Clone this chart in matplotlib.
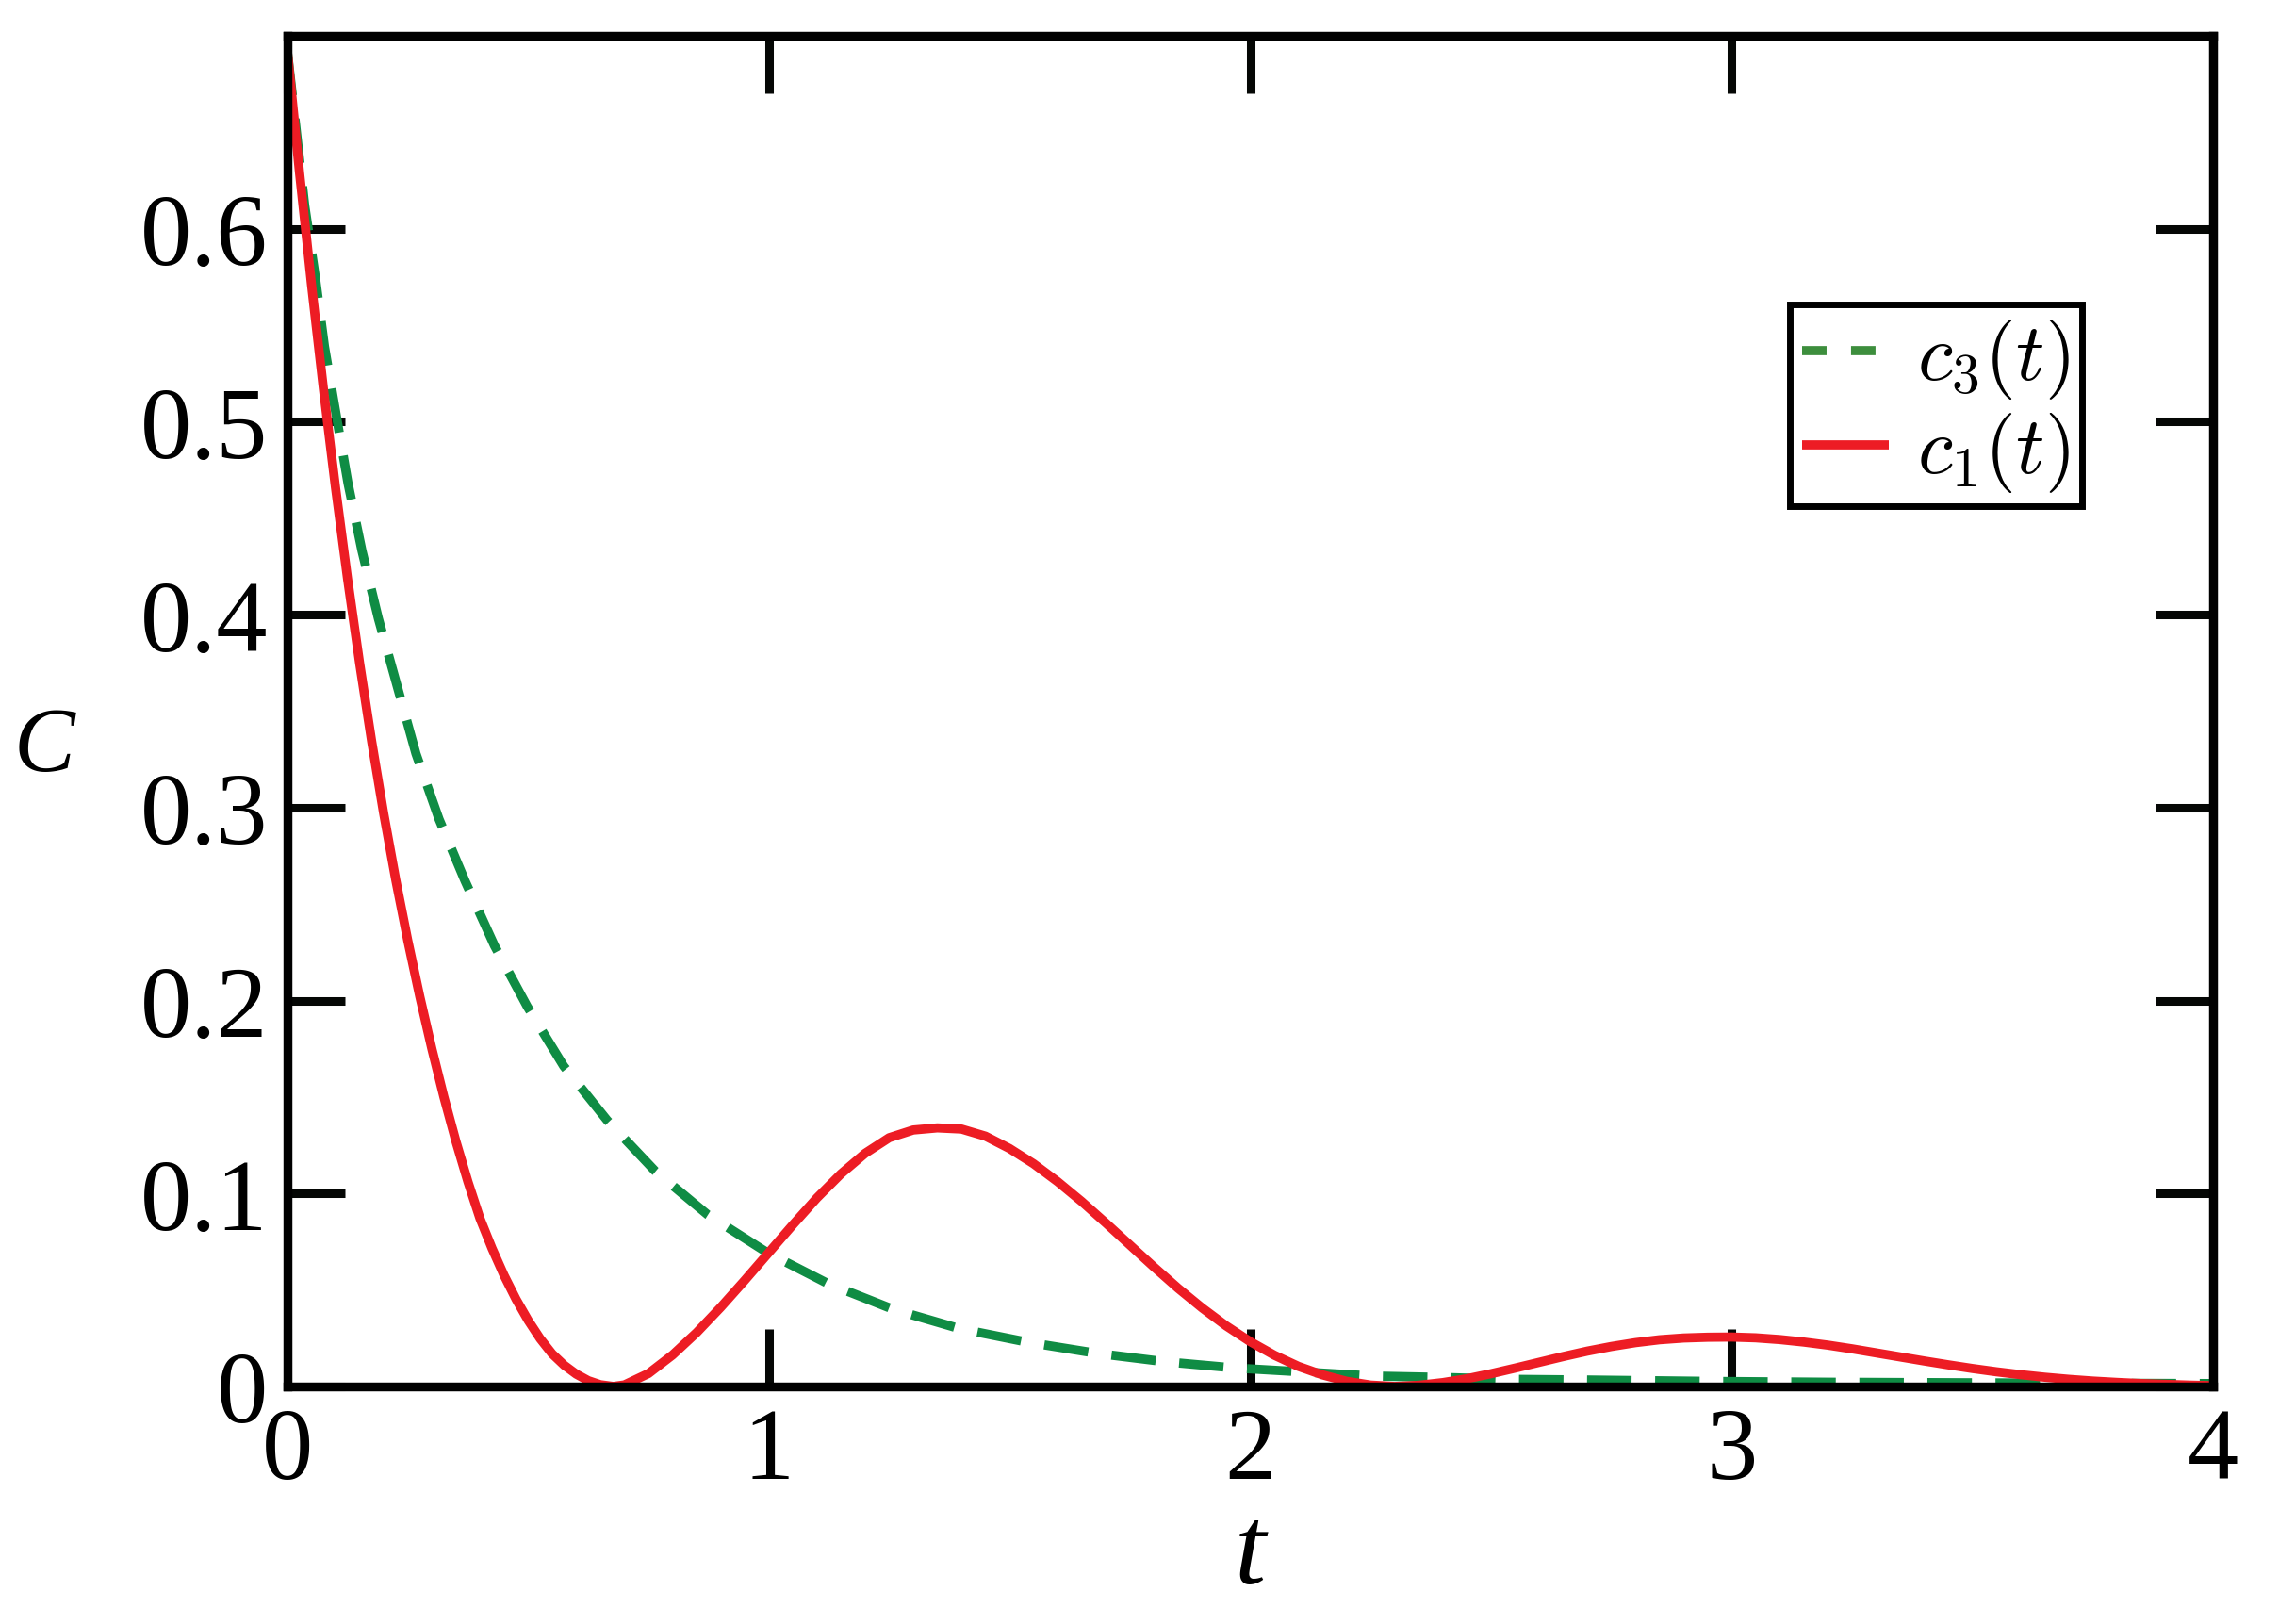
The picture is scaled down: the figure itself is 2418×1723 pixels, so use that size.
import matplotlib
matplotlib.use('Agg')
import matplotlib.pyplot as plt

plt.rcParams['font.family'] = ['Liberation Serif', 'DejaVu Serif']
plt.rcParams['mathtext.fontset'] = 'cm'
plt.rcParams['lines.scale_dashes'] = False

# c1(t), red solid
c1_t = [0.0, 0.025, 0.05, 0.075, 0.1, 0.125, 0.15, 0.175, 0.2, 0.225,
        0.25, 0.275, 0.3, 0.325, 0.35, 0.375, 0.4, 0.425, 0.45, 0.475,
        0.5, 0.525, 0.55, 0.575, 0.6, 0.625, 0.65, 0.677, 0.7, 0.75,
        0.8, 0.85, 0.9, 0.95, 1.0, 1.05, 1.1, 1.15, 1.2, 1.25,
        1.3, 1.35, 1.4, 1.45, 1.5, 1.55, 1.6, 1.65, 1.7, 1.75,
        1.8, 1.85, 1.9, 1.95, 2.0, 2.05, 2.1, 2.15, 2.2, 2.25,
        2.3, 2.35, 2.4, 2.45, 2.5, 2.55, 2.6, 2.65, 2.7, 2.75,
        2.8, 2.85, 2.9, 2.95, 3.0, 3.05, 3.1, 3.15, 3.2, 3.25,
        3.3, 3.35, 3.4, 3.45, 3.5, 3.55, 3.6, 3.65, 3.7, 3.75,
        3.8, 3.85, 3.9, 3.95, 4.0]
c1_v = [0.692, 0.6296, 0.5712, 0.5167, 0.4658, 0.4186, 0.3749, 0.3344, 0.2970, 0.2627,
        0.2312, 0.2021, 0.1751, 0.1501, 0.1271, 0.1061, 0.0871, 0.0716, 0.0576, 0.0452,
        0.0343, 0.0248, 0.0169, 0.0110, 0.0064, 0.0030, 0.0009, 0.0, 0.0008, 0.0067,
        0.0163, 0.0279, 0.0410, 0.0550, 0.0694, 0.0838, 0.0977, 0.1102, 0.1208, 0.1289,
        0.1329, 0.1340, 0.1334, 0.1297, 0.1233, 0.1154, 0.1061, 0.0958, 0.0847, 0.0733,
        0.0619, 0.0509, 0.0407, 0.0314, 0.0232, 0.0162, 0.0104, 0.0060, 0.0027, 0.0007,
        0.0, 0.0006, 0.0020, 0.0040, 0.0066, 0.0095, 0.0125, 0.0155, 0.0183, 0.0207,
        0.0227, 0.0242, 0.0251, 0.0255, 0.0256, 0.0252, 0.0243, 0.0230, 0.0214, 0.0195,
        0.0174, 0.0153, 0.0132, 0.0112, 0.0093, 0.0076, 0.0061, 0.0048, 0.0037, 0.0028,
        0.0021, 0.0015, 0.0011, 0.0007, 0.0004]

# c3(t), green dashed
c3_t = [0.0, 0.036, 0.058, 0.077, 0.101, 0.126, 0.155, 0.189, 0.228, 0.267,
        0.315, 0.369, 0.430, 0.498, 0.574, 0.664, 0.764, 0.873, 0.996, 1.122,
        1.258, 1.394, 1.538, 1.680, 1.823, 1.966, 2.111, 2.254, 2.398, 2.541,
        2.684, 2.828, 2.970, 3.2, 3.6, 4.0]
c3_v = [0.692, 0.612, 0.575, 0.539, 0.504, 0.468, 0.433, 0.398, 0.363, 0.328,
        0.294, 0.262, 0.2285, 0.197, 0.166, 0.138, 0.1116, 0.089, 0.0695, 0.0534,
        0.040, 0.0301, 0.0229, 0.0172, 0.0128, 0.0096, 0.0075, 0.0054, 0.0047, 0.0037,
        0.0034, 0.003, 0.0026, 0.0022, 0.0018, 0.0015]

xticks = [0, 1, 2, 3, 4]
yticks = [0, 0.1, 0.2, 0.3, 0.4, 0.5, 0.6]
yticklabels = ['0', '0.1', '0.2', '0.3', '0.4', '0.5', '0.6']

fig = plt.figure(figsize=(24.18, 17.24), dpi=100)
ax = fig.add_axes([0.1261, 0.1462, 0.9711 - 0.1261, 0.9774 - 0.1462])

ax.plot(c3_t, c3_v, color='#0f8c44', lw=7, dashes=(34, 18),
        dash_capstyle='butt', label=r'$c_3(t)$')
ax.plot(c1_t, c1_v, color='#ed1c24', lw=7, solid_capstyle='butt',
        solid_joinstyle='round', label=r'$c_1(t)$')

ax.set_xlim(0, 4)
ax.set_ylim(0, 0.7)
ax.set_xticks(xticks)
ax.set_xticklabels([str(x) for x in xticks])
ax.set_yticks(yticks)
ax.set_yticklabels(yticklabels)

for s in ax.spines.values():
    s.set_linewidth(6.8)
ax.tick_params(direction='in', length=44, width=6.5, top=True, right=True,
               labelsize=78, color='#050705')
ax.tick_params(axis='y', pad=15)
ax.tick_params(axis='x', pad=16)

ax.set_xlabel('t', fontsize=86, style='italic')
ax.xaxis.set_label_coords(0.5, -0.125)
ax.xaxis.label.set_va('center')
ax.set_ylabel('C', fontsize=70, style='italic', rotation=0)
ax.yaxis.set_label_coords(-0.1263, 0.4724)
ax.yaxis.label.set_va('center')
ax.yaxis.label.set_ha('center')

leg = ax.legend(loc='upper right', bbox_to_anchor=(0.9317, 0.8008),
                borderaxespad=0, fancybox=False, fontsize=61,
                handlelength=1.08, handletextpad=0.36, borderpad=0.15,
                labelspacing=0.12, framealpha=1)
leg.get_frame().set_edgecolor('black')
leg.get_frame().set_linewidth(5)
hl = leg.get_lines()
hl[0].set_color('#3d8e3d')
hl[0].set_dashes((18.7, 18.7))

fig.savefig('out.png', dpi=100)
